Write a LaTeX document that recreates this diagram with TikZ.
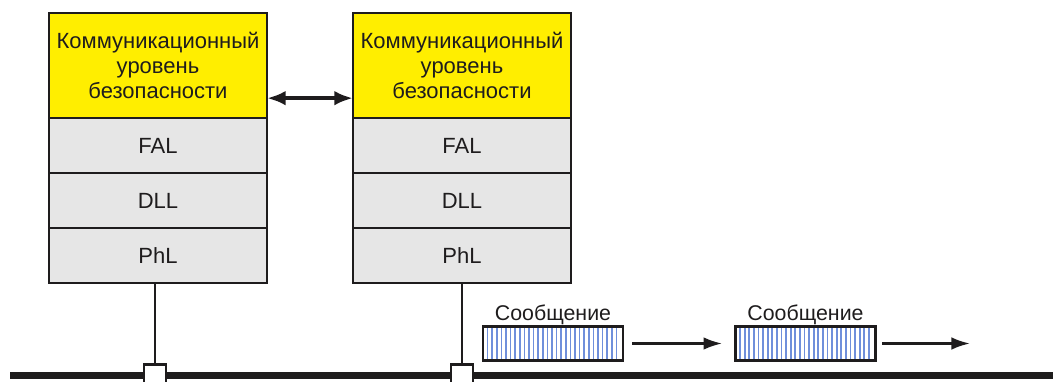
\documentclass[tikz,border=0pt]{standalone}
\usepackage{fontspec}
\setmainfont{Liberation Sans}
\usetikzlibrary{arrows.meta,positioning}
\definecolor{Ink}{HTML}{1E1C1D}
\definecolor{SecurityYellow}{HTML}{FFEE00}
\definecolor{LayerGray}{HTML}{E6E6E6}
\definecolor{StripeBlue}{HTML}{6F8FDB}
\tikzset{
  layer frame/.style={draw=Ink, line width=2.1pt, outer sep=0pt,
    minimum width=163.5pt, align=center, text=Ink,
    font=\fontsize{16.5}{18.5}\selectfont},
  security layer/.style={layer frame, fill=SecurityYellow, minimum height=78.75pt},
  stack layer/.style={layer frame, fill=LayerGray, minimum height=41.25pt},
  bus line/.style={draw=Ink, line width=5.4pt},
  drop line/.style={draw=Ink, line width=1.9pt},
  tap/.style={draw=Ink, fill=white, line width=2pt, minimum size=16.5pt, inner sep=0pt},
  peer flow/.style={{Latex[length=14pt,width=11pt]}-{Latex[length=14pt,width=11pt]},
    draw=Ink, line width=2.8pt},
  message flow/.style={-{Latex[length=14pt,width=9.5pt]}, draw=Ink, line width=1.9pt},
  message box/.style={draw=Ink, line width=2.1pt, fill=white, outer sep=0pt,
    minimum width=105pt, minimum height=25pt,
    path picture={
      \foreach \k in {1,...,29}
        \draw[StripeBlue, line width=1.3pt]
          ([xshift=\k*3.45pt]path picture bounding box.south west) --
          ([xshift=\k*3.45pt]path picture bounding box.north west);
    }},
  message label/.style={text=Ink, font=\fontsize{16}{18}\selectfont, inner sep=1pt},
}

\begin{document}
\begin{tikzpicture}[x=0.75pt, y=-0.75pt, node distance=0pt]
  \useasboundingbox (0,0) rectangle (1057,382);

  % two protocol stacks
  \node[security layer] (secA) at (158,65.5) {Коммуникационный\\уровень\\безопасности};
  \node[stack layer, below=of secA] (falA) {FAL};
  \node[stack layer, below=of falA] (dllA) {DLL};
  \node[stack layer, below=of dllA] (phlA) {PhL};

  \node[security layer] (secB) at (462,65.5) {Коммуникационный\\уровень\\безопасности};
  \node[stack layer, below=of secB] (falB) {FAL};
  \node[stack layer, below=of falB] (dllB) {DLL};
  \node[stack layer, below=of dllB] (phlB) {PhL};

  \draw[peer flow] ([yshift=-24.5pt]secA.east) -- ([yshift=-24.5pt]secB.west);

  % bus with taps
  \coordinate (busL) at (10,375.5);
  \coordinate (busR) at (1053,375.5);
  \draw[bus line] (busL) -- (busR);
  \node[tap] (tapA) at (155,375.5) {};
  \node[tap] (tapB) at (462,375.5) {};
  \draw[drop line] (phlA.south -| tapA) -- (tapA.north);
  \draw[drop line] (phlB.south -| tapB) -- (tapB.north);

  % messages on the bus
  \node[message box] (msgA) at (553,343.5) {};
  \node[message box] (msgB) at (805.5,343.5) {};
  \node[message label, above=0.5pt of msgA] (msgTextA) {Сообщение};
  \node[message label, above=0.5pt of msgB] (msgTextB) {Сообщение};
  \coordinate (msgEnd) at (970,343.5);
  \draw[message flow] ([xshift=7pt]msgA.east) -- ([xshift=-10pt]msgB.west);
  \draw[message flow] ([xshift=5pt]msgB.east) -- (msgEnd);
\end{tikzpicture}
\end{document}
